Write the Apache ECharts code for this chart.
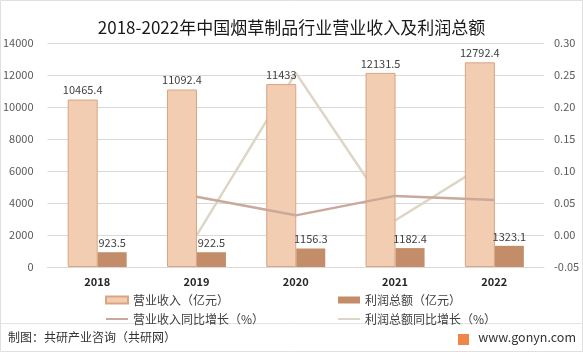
<!DOCTYPE html>
<html>
<head>
<meta charset="utf-8">
<script src="https://cdn.jsdelivr.net/npm/echarts@6/dist/echarts.min.js"></script>
<style>
  html, body { margin: 0; padding: 0; background: #fff; }
  #chart { width: 583px; height: 352px; }
</style>
</head>
<body>
<div id="chart"></div>
<script>
// 数据
const years = ['2018', '2019', '2020', '2021', '2022']
const revenue = [10465.4, 11092.4, 11433, 12131.5, 12792.4]
const profit = [923.5, 922.5, 1156.3, 1182.4, 1323.1]
const revenueGrowth = [null, 0.0599, 0.0307, 0.0611, 0.0545]
const profitGrowth = [null, -0.0011, 0.2534, 0.0226, 0.1190]

const font = '"Noto Sans CJK SC", "Microsoft YaHei", sans-serif'
const lineIcon = 'path://M0,0L22,0L22,2L0,2Z'
const myCharts = echarts.init(document.getElementById('chart'))

const option = {
  backgroundColor: '#fff',
  textStyle: { fontFamily: font },
  title: {
    text: '2018-2022年中国烟草制品行业营业收入及利润总额',
    left: 'center',
    top: 14,
    textStyle: { fontSize: 17, fontWeight: 'normal', color: '#1a1a1a', fontFamily: font }
  },
  legend: [
    {
      orient: 'vertical',
      left: 100,
      top: 289,
      itemWidth: 22,
      itemHeight: 7,
      itemGap: 7,
      textStyle: { fontSize: 12, color: '#404040' },
      data: [
        { name: '营业收入（亿元）', icon: 'rect' },
        { name: '营业收入同比增长（%）', icon: lineIcon }
      ]
    },
    {
      orient: 'vertical',
      left: 333,
      top: 289,
      itemWidth: 22,
      itemHeight: 7,
      itemGap: 7,
      textStyle: { fontSize: 12, color: '#404040' },
      data: [
        { name: '利润总额（亿元）', icon: 'rect' },
        { name: '利润总额同比增长（%）', icon: lineIcon }
      ]
    }
  ],
  grid: { left: 44, right: 39, top: 43, bottom: 85 },
  xAxis: {
    type: 'category',
    data: years,
    axisTick: { show: false },
    axisLine: { lineStyle: { color: '#d9d9d9' } },
    axisLabel: { color: '#262626', fontWeight: 'bold', fontSize: 11, margin: 9 }
  },
  yAxis: [
    {
      type: 'value',
      min: 0,
      max: 14000,
      interval: 2000,
      axisLabel: { color: '#595959', fontSize: 11, margin: 14, formatter: v => String(v) },
      splitLine: { lineStyle: { color: '#d9d9d9' } }
    },
    {
      type: 'value',
      min: -0.05,
      max: 0.30,
      interval: 0.05,
      axisLabel: {
        color: '#595959',
        fontSize: 11,
        margin: 10,
        formatter: v => v.toFixed(2)
      },
      splitLine: { show: false }
    }
  ],
  series: [
    {
      name: '营业收入（亿元）',
      type: 'bar',
      data: revenue,
      barWidth: 30,
      barGap: '0%',
      z: 2,
      itemStyle: { color: '#f2cdb1', borderColor: '#d9a583', borderWidth: 1 },
      label: { show: true, position: 'top', color: '#404040', fontSize: 11, distance: 4 }
    },
    {
      name: '利润总额（亿元）',
      type: 'bar',
      data: profit,
      barWidth: 29,
      z: 2,
      itemStyle: { color: '#c38d69' },
      label: { show: true, position: 'top', color: '#404040', fontSize: 11, distance: 4 }
    },
    {
      name: '营业收入同比增长（%）',
      type: 'line',
      yAxisIndex: 1,
      data: revenueGrowth,
      symbol: 'none',
      z: 3,
      itemStyle: { color: '#caa89c' },
      lineStyle: { color: '#caa89c', width: 2.5 }
    },
    {
      name: '利润总额同比增长（%）',
      type: 'line',
      yAxisIndex: 1,
      data: profitGrowth,
      symbol: 'none',
      z: 1,
      itemStyle: { color: '#ddd6c6' },
      lineStyle: { color: '#ddd6c6', width: 2.5 }
    }
  ],
  graphic: [
    {
      type: 'rect',
      shape: { x: 0.5, y: 0.5, width: 582, height: 351 },
      style: { fill: 'none', stroke: '#e0e0e0', lineWidth: 1 }
    },
    {
      type: 'line',
      shape: { x1: 0, y1: 323.5, x2: 583, y2: 323.5 },
      style: { stroke: '#e3e3e3', lineWidth: 1 }
    },
    {
      type: 'text',
      left: 8,
      top: 331,
      style: { text: '制图：共研产业咨询（共研网）', fill: '#333', font: '12px ' + font }
    },
    {
      type: 'rect',
      shape: { x: 458, y: 334, width: 11, height: 11 },
      style: { fill: '#f0854a' }
    },
    {
      type: 'text',
      right: 7,
      top: 331,
      style: { text: 'www.gonyn.com', fill: '#333', font: '12.5px ' + font }
    }
  ]
}
myCharts.setOption(option)
</script>
</body>
</html>
